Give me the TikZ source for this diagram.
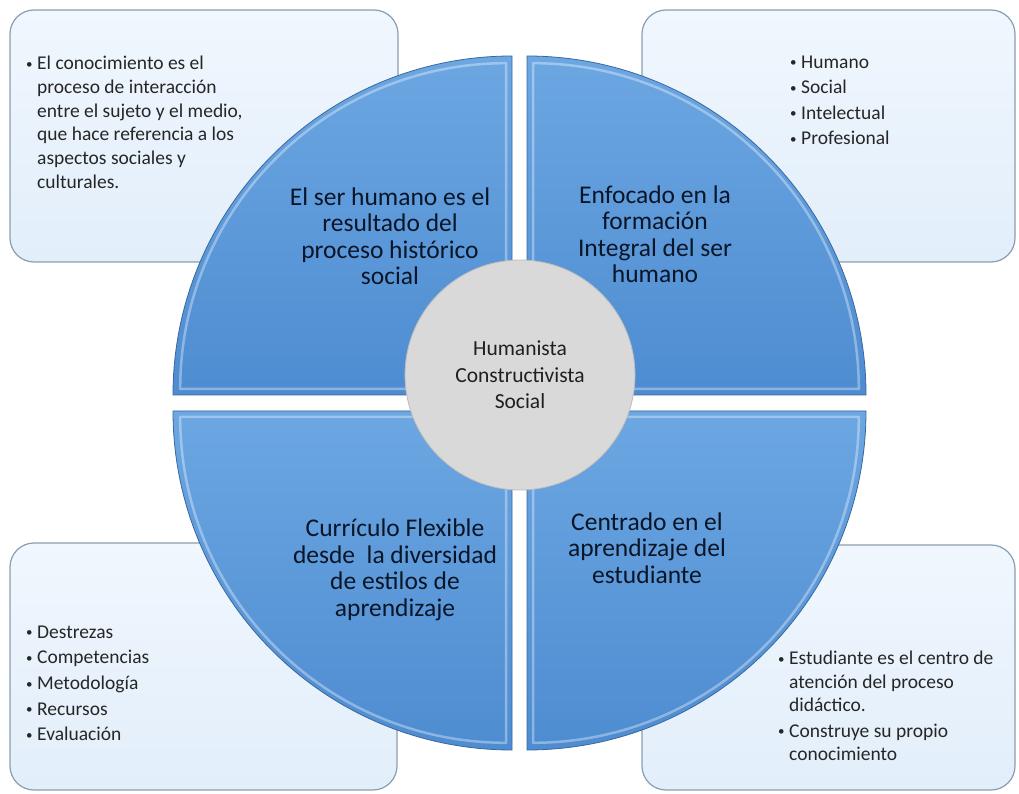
\documentclass[tikz,border=0pt]{standalone}
\usepackage{fontspec}
\setmainfont{Carlito}
\usetikzlibrary{calc}

\definecolor{pietop}{RGB}{108,167,226}
\definecolor{piebot}{RGB}{78,140,209}
\definecolor{pieedge}{RGB}{58,104,158}
\definecolor{pietext}{RGB}{10,22,40}
\definecolor{boxtop}{RGB}{240,247,254}
\definecolor{boxbot}{RGB}{226,238,250}
\definecolor{boxedge}{RGB}{138,158,178}
\definecolor{listtext}{RGB}{38,38,38}
\definecolor{hubfill}{RGB}{217,217,217}
\definecolor{hubedge}{RGB}{188,188,188}

\newcommand{\bul}{\makebox[12pt][l]{\hspace{1pt}\raisebox{1.3pt}{\fontsize{13}{13}\selectfont\textbullet}}}

\tikzset{
    infobox/.style={draw=boxedge, line width=1.2pt, rounded corners=24pt,
        top color=boxtop, bottom color=boxbot, inner sep=0pt},
    quarter/.style={draw=pieedge, line width=0.8pt, top color=pietop, bottom color=piebot},
    quartertext/.style={align=center, text=pietext, font=\fontsize{25.5}{26.5}\selectfont},
    listtext/.style={anchor=north west, inner sep=0pt, text=listtext},
    hub/.style={circle, draw=hubedge, line width=0.8pt, fill=hubfill, minimum size=230pt,
        align=center, font=\fontsize{21.5}{26.5}\selectfont, text=black!88},
}

\begin{document}
\begin{tikzpicture}[x=1pt, y=1pt]
    \useasboundingbox (0,0) rectangle (1019,793);
    \fill[white] (0,0) rectangle (1019,793);

    % corner boxes
    \node[infobox, minimum width=388pt, minimum height=252pt] (tlbox) at (204,657) {};
    \node[infobox, minimum width=373pt, minimum height=252pt] (trbox) at (828.5,657) {};
    \node[infobox, minimum width=387pt, minimum height=247pt] (blbox) at (203.5,126.5) {};
    \node[infobox, minimum width=373pt, minimum height=245pt] (brbox) at (828.5,125.5) {};

    % four quarters of the disc
    \pgfmathsetmacro{\pieRadius}{339}
    \pgfmathsetmacro{\bevel}{6}
    \foreach \cx/\cy/\sx/\sy/\a in {512/398/-1/1/90, 527/398/1/1/0, 512/382/-1/-1/180, 527/382/1/-1/270}{
        \draw[quarter] (\cx,\cy) -- ++(\a:\pieRadius pt)
            arc[start angle=\a, end angle=\a+90, radius=\pieRadius pt] -- cycle;
        \draw[white, opacity=0.35, line width=2.5pt, line join=round]
            (\cx+\sx*\bevel,\cy+\sy*\bevel) -- ++(\a:\pieRadius pt-2.2*\bevel pt)
            arc[start angle=\a, end angle=\a+90, radius=\pieRadius pt-2.2*\bevel pt] -- cycle;
    }

    \node[quartertext] (tltext) at (390,557) {El ser humano es el\\resultado del\\proceso histórico\\social};
    \node[quartertext] (trtext) at (655,559) {Enfocado en la\\formación\\Integral del ser\\humano};
    \node[quartertext] (bltext) at (395,223) {Currículo Flexible\\desde\ \ la diversidad\\de estilos de\\aprendizaje};
    \node[quartertext] (brtext) at (647,245) {Centrado en el\\aprendizaje del\\estudiante};

    % centre
    \node[hub] (hub) at (520,418) {Humanista\\Constructivista\\Social};

    % lists in the boxes
    \node[listtext, font=\fontsize{19.5}{23.7}\selectfont] (tllist) at (25,740) {%
        \begin{tabular}{@{}l@{}l@{}}
        \bul & El conocimiento es el\\
             & proceso de interacción\\
             & entre el sujeto y el medio,\\
             & que hace referencia a los\\
             & aspectos sociales y\\
             & culturales.
        \end{tabular}};
    \node[listtext, font=\fontsize{19.5}{25.5}\selectfont] (trlist) at (789,743) {%
        \begin{tabular}{@{}l@{}l@{}}
        \bul & Humano\\
        \bul & Social\\
        \bul & Intelectual\\
        \bul & Profesional
        \end{tabular}};
    \node[listtext, font=\fontsize{19.5}{25.7}\selectfont] (bllist) at (25,173) {%
        \begin{tabular}{@{}l@{}l@{}}
        \bul & Destrezas\\
        \bul & Competencias\\
        \bul & Metodología\\
        \bul & Recursos\\
        \bul & Evaluación
        \end{tabular}};
    \node[listtext, font=\fontsize{19.5}{23.5}\selectfont] (brlist) at (777,145) {%
        \begin{tabular}{@{}l@{}l@{}}
        \bul & Estudiante es el centro de\\
             & atención del proceso\\
             & didáctico.\\[2pt]
        \bul & Construye su propio\\
             & conocimiento
        \end{tabular}};
\end{tikzpicture}
\end{document}
